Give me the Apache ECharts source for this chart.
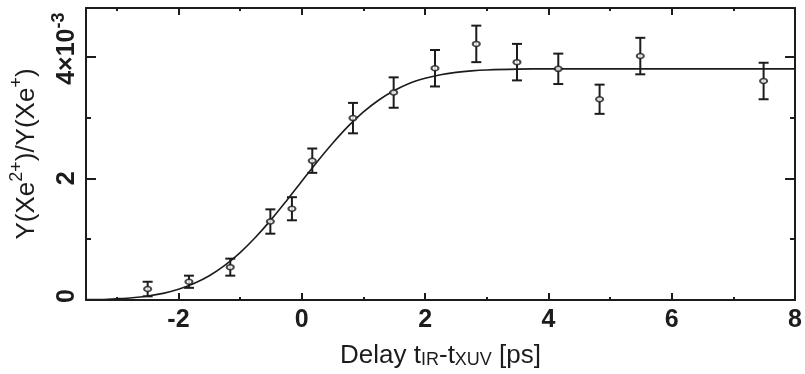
<!DOCTYPE html>
<html>
<head>
<meta charset="utf-8">
<script src="https://cdn.jsdelivr.net/npm/echarts@6/dist/echarts.min.js"></script>
<style>
html,body{margin:0;padding:0;background:#fff;}
#c{width:805px;height:374px;}
</style>
</head>
<body>
<div id="c"></div>
<script>
// Measured data points (delay in ps, ratio in units of 1e-3)
const delayX = [-2.5, -1.83, -1.16, -0.51, -0.16, 0.17, 0.83, 1.49, 2.16, 2.83, 3.49, 4.16, 4.83, 5.49, 7.49];
const ratioY = [0.18, 0.30, 0.54, 1.29, 1.50, 2.29, 2.99, 3.41, 3.81, 4.21, 3.91, 3.80, 3.30, 4.01, 3.60];
const ratioErr = [0.12, 0.10, 0.14, 0.20, 0.19, 0.20, 0.25, 0.25, 0.30, 0.30, 0.30, 0.25, 0.24, 0.30, 0.30];

// Fit curve
const fitX = [-3.5, -3.25, -3.0, -2.75, -2.5, -2.25, -2.0, -1.75, -1.5, -1.25, -1.0, -0.75, -0.5, -0.25, 0, 0.25, 0.5, 0.75, 1.0, 1.25, 1.5, 1.75, 2.0, 2.25, 2.5, 2.75, 3.0, 3.5, 4.0, 8.0];
const fitY = [0.006, 0.009, 0.021, 0.037, 0.065, 0.109, 0.177, 0.271, 0.399, 0.569, 0.780, 1.032, 1.317, 1.629, 1.952, 2.273, 2.577, 2.854, 3.091, 3.288, 3.443, 3.563, 3.645, 3.704, 3.742, 3.767, 3.782, 3.795, 3.80, 3.80];

// Axis settings
const xMin = -3.5, xMax = 8;
const yMin = 0, yMax = 4.8;
const yTickLabels = { 0: '{z|0}', 2: '{m|2}', 4: '{t|4×10}{s|-3}' };

const ink = '#1c1c1c';
const font = 'Liberation Sans, Arial, sans-serif';

const chart = echarts.init(document.getElementById('c'), null, { renderer: 'canvas' });

function xAx(pos, major) {
  return {
    type: 'value', position: pos, min: xMin, max: xMax,
    splitNumber: major ? 5 : 11,
    splitLine: { show: false },
    axisLine: { show: major, onZero: false, lineStyle: { color: ink, width: 2 } },
    axisTick: { show: true, inside: true, length: major ? 7 : 3, lineStyle: { color: ink, width: 2 } },
    axisLabel: { show: false }
  };
}
function yAx(pos, major) {
  return {
    type: 'value', position: pos, min: yMin, max: yMax,
    interval: major ? 2 : 1,
    splitLine: { show: false },
    axisLine: { show: major, onZero: false, lineStyle: { color: ink, width: 2 } },
    axisTick: { show: true, inside: true, length: major ? 10 : 5, lineStyle: { color: ink, width: 2 } },
    axisLabel: { show: false }
  };
}

const xMain = xAx('bottom', true);
xMain.axisLabel = {
  show: true, showMinLabel: false, margin: 8,
  color: ink, fontFamily: font, fontSize: 25, fontWeight: 'bold'
};
xMain.name = '{n|Delay t}{b|IR}{n|-t}{b|XUV}{n| [ps]}';
xMain.nameLocation = 'middle';
xMain.nameGap = 43;
xMain.nameTextStyle = {
  color: ink, fontFamily: font,
  rich: {
    n: { fontSize: 26, fontFamily: font, color: ink, verticalAlign: 'top', lineHeight: 26 },
    b: { fontSize: 18, fontFamily: font, color: ink, verticalAlign: 'bottom', lineHeight: 18, padding: [9, 0, 0, 0] }
  }
};

const yMain = yAx('left', true);
yMain.axisLabel = {
  show: true, rotate: 90, margin: 6,
  color: ink, fontFamily: font, fontSize: 25, fontWeight: 'bold',
  formatter: v => yTickLabels[v] || '',
  rich: {
    z: { fontSize: 25, fontWeight: 'bold', fontFamily: font, color: ink, padding: [0, 0, 0, 8] },
    m: { fontSize: 25, fontWeight: 'bold', fontFamily: font, color: ink },
    t: { fontSize: 25, fontWeight: 'bold', fontFamily: font, color: ink, verticalAlign: 'bottom', lineHeight: 30, padding: [0, 0, 0, 16] },
    s: { fontSize: 18, fontWeight: 'bold', fontFamily: font, color: ink, verticalAlign: 'top', lineHeight: 18 }
  }
};
yMain.name = '{n|Y(Xe}{s|2+}{n|)/Y(Xe}{s|+}{n|)}';
yMain.nameLocation = 'middle';
yMain.nameRotate = 90;
yMain.nameGap = 46;
yMain.nameTextStyle = {
  color: ink, fontFamily: font,
  rich: {
    n: { fontSize: 26, fontFamily: font, color: ink, verticalAlign: 'bottom', lineHeight: 32 },
    s: { fontSize: 18, fontFamily: font, color: ink, verticalAlign: 'top', lineHeight: 18 }
  }
};

const option = {
  backgroundColor: '#fff',
  animation: false,
  grid: { left: 85, right: 7, top: 8, bottom: 69, containLabel: false },
  xAxis: [xMain, xAx('bottom', false), xAx('top', true), xAx('top', false)],
  yAxis: [yMain, yAx('left', false), yAx('right', true), yAx('right', false)],
  series: [
    {
      type: 'line', xAxisIndex: 0, yAxisIndex: 0,
      data: fitX.map((x, i) => [x, fitY[i]]),
      smooth: 0.3, showSymbol: false, symbol: 'none',
      lineStyle: { color: ink, width: 1.6 }, z: 2
    },
    {
      type: 'custom', xAxisIndex: 0, yAxisIndex: 0,
      data: delayX.map((x, i) => [x, ratioY[i], ratioErr[i]]),
      renderItem: function (params, api) {
        const x = api.value(0), y = api.value(1), e = api.value(2);
        const top = api.coord([x, y + e]);
        const bot = api.coord([x, y - e]);
        const hw = 5;
        const st = { stroke: ink, lineWidth: 2 };
        return {
          type: 'group',
          children: [
            { type: 'line', shape: { x1: top[0], y1: top[1], x2: bot[0], y2: bot[1] }, style: st },
            { type: 'line', shape: { x1: top[0] - hw, y1: top[1], x2: top[0] + hw, y2: top[1] }, style: st },
            { type: 'line', shape: { x1: bot[0] - hw, y1: bot[1], x2: bot[0] + hw, y2: bot[1] }, style: st }
          ]
        };
      },
      z: 3
    },
    {
      type: 'scatter', xAxisIndex: 0, yAxisIndex: 0,
      data: delayX.map((x, i) => [x, ratioY[i]]),
      symbol: 'circle', symbolSize: [7, 5],
      itemStyle: { color: '#fff', borderColor: ink, borderWidth: 1.8 },
      z: 4
    }
  ]
};
chart.setOption(option);
</script>
</body>
</html>
